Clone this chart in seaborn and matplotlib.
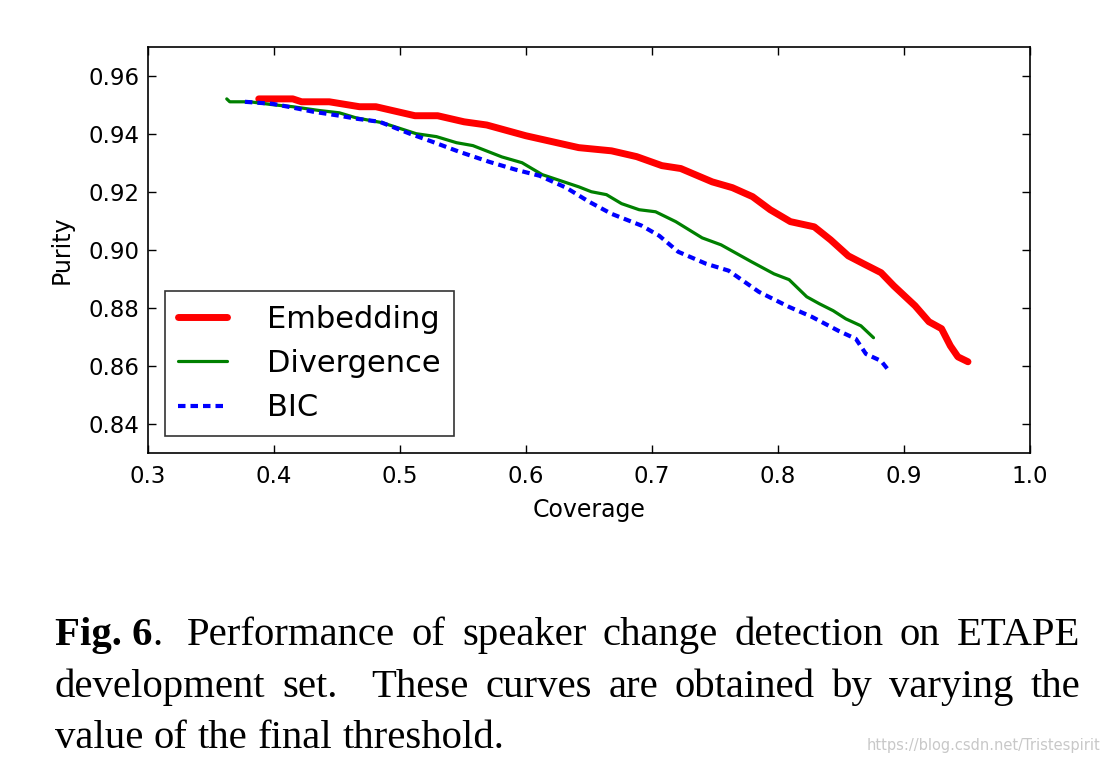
import numpy as np
import pandas as pd
import seaborn as sns
import matplotlib.pyplot as plt

# values
emb_cov = [0.388, 0.415, 0.422, 0.444, 0.468, 0.481, 0.512, 0.530, 0.551, 0.569,
           0.600, 0.642, 0.668, 0.688, 0.708, 0.723, 0.748, 0.764, 0.780, 0.794,
           0.810, 0.829, 0.842, 0.856, 0.868, 0.882, 0.892, 0.909, 0.920, 0.930,
           0.937, 0.943, 0.951]
emb_pur = [0.952, 0.952, 0.951, 0.951, 0.9493, 0.9493, 0.9462, 0.9462, 0.9441, 0.943,
           0.9393, 0.9352, 0.9341, 0.9321, 0.929, 0.928, 0.9234, 0.9214, 0.9183, 0.9138,
           0.9097, 0.9079, 0.9034, 0.8979, 0.8952, 0.8921, 0.8876, 0.8807, 0.8752, 0.8728,
           0.8669, 0.8631, 0.8614]

div_cov = [0.3626, 0.365, 0.381, 0.399, 0.415, 0.436, 0.452, 0.465, 0.486, 0.513,
           0.529, 0.545, 0.558, 0.581, 0.597, 0.613, 0.642, 0.652, 0.664, 0.676,
           0.690, 0.703, 0.719, 0.740, 0.755, 0.779, 0.797, 0.809, 0.823, 0.833,
           0.844, 0.854, 0.866, 0.876]
div_pur = [0.952, 0.951, 0.951, 0.950, 0.9493, 0.948, 0.9472, 0.9455, 0.9438, 0.940,
           0.939, 0.9369, 0.9359, 0.932, 0.930, 0.9259, 0.9217, 0.920, 0.919, 0.9159,
           0.9138, 0.9131, 0.9097, 0.9041, 0.9017, 0.8959, 0.8917, 0.8897, 0.8838, 0.8814,
           0.879, 0.8762, 0.8738, 0.8697]

bic_cov = [0.377, 0.399, 0.415, 0.431, 0.452, 0.465, 0.484, 0.508, 0.526, 0.547,
           0.571, 0.592, 0.611, 0.632, 0.650, 0.668, 0.692, 0.706, 0.721, 0.743,
           0.761, 0.785, 0.809, 0.827, 0.848, 0.862, 0.870, 0.882, 0.889]
bic_pur = [0.951, 0.9503, 0.949, 0.9476, 0.9462, 0.9452, 0.9441, 0.940, 0.9372, 0.9338,
           0.9303, 0.9276, 0.9255, 0.9214, 0.9166, 0.9124, 0.9083, 0.9048, 0.8993, 0.8952,
           0.8928, 0.8855, 0.8803, 0.8769, 0.8721, 0.8693, 0.8641, 0.8617, 0.8579]

x_ticks = [0.3, 0.4, 0.5, 0.6, 0.7, 0.8, 0.9, 1.0]
y_ticks = [0.84, 0.86, 0.88, 0.90, 0.92, 0.94, 0.96]

# caption lines: list of words, each word a list of (text, bold) pieces
caption = [
    [[("Fig. 6", True), (".", False)], [("Performance", False)], [("of", False)],
     [("speaker", False)], [("change", False)], [("detection", False)],
     [("on", False)], [("ETAPE", False)]],
    [[("development", False)], [("set.", False)], [("These", False)],
     [("curves", False)], [("are", False)], [("obtained", False)], [("by", False)],
     [("varying", False)], [("the", False)]],
    [[("value", False)], [("of", False)], [("the", False)], [("final", False)],
     [("threshold.", False)]],
]
# extra weight for the wider gaps after a sentence end
gap_weights = [[1.5, 1, 1, 1, 1, 1, 1], [1, 2, 1, 1, 1, 1, 1, 1], [1, 1, 1, 1]]

emb = pd.DataFrame({"Coverage": emb_cov, "Purity": emb_pur})
div = pd.DataFrame({"Coverage": div_cov, "Purity": div_pur})
bic = pd.DataFrame({"Coverage": bic_cov, "Purity": bic_pur})

sns.set_style("white")
plt.rcParams["font.family"] = ["DejaVu Sans"]
plt.rcParams["text.color"] = "black"
plt.rcParams["axes.labelcolor"] = "black"

fig = plt.figure(figsize=(11.12, 7.65), dpi=100)
ax = fig.add_axes([0.133, 0.408, 0.793, 0.531])

sns.lineplot(data=emb, x="Coverage", y="Purity", ax=ax, color="#ff0000",
             lw=5, sort=False, estimator=None, label="Embedding")
sns.lineplot(data=div, x="Coverage", y="Purity", ax=ax, color="#008000",
             lw=2.3, sort=False, estimator=None, label="Divergence")
sns.lineplot(data=bic, x="Coverage", y="Purity", ax=ax, color="#0000ff",
             lw=3, sort=False, estimator=None, label="BIC")
ax.lines[-1].set_dashes((1.8, 1.2))

ax.set_xlim(0.3, 1.0)
ax.set_ylim(0.83, 0.97)
ax.set_xticks(x_ticks)
ax.set_yticks(y_ticks)
ax.set_xticklabels([f"{v:.1f}" for v in x_ticks])
ax.set_yticklabels([f"{v:.2f}" for v in y_ticks])
ax.tick_params(direction="in", length=6, width=1, labelsize=16.5,
               top=True, right=True, bottom=True, left=True,
               colors="black", labelcolor="black")
ax.tick_params(axis="x", pad=9)
ax.tick_params(axis="y", pad=6)
for s in ax.spines.values():
    s.set_visible(True)
    s.set_color("black")
    s.set_linewidth(1.2)
ax.set_xlabel("Coverage", fontsize=17, labelpad=7)
ax.set_ylabel("Purity", fontsize=17, labelpad=11)

leg = ax.legend(loc="lower left", fontsize=22, frameon=True, fancybox=False,
                handlelength=1.6, borderpad=0.45, labelspacing=0.5,
                handletextpad=1.3, borderaxespad=0.55)
leg.get_frame().set_edgecolor("black")
leg.get_frame().set_linewidth(1.2)
for t in leg.get_texts():
    t.set_color("black")

# caption under the plot, justified like the paper
cap_font = dict(family=["Liberation Serif"], fontsize=29.3, color="black",
                va="baseline")
x_left, x_right = 55, 1080
baselines = [645, 697, 748]
renderer = fig.canvas.get_renderer()
for li, (words, weights) in enumerate(zip(caption, gap_weights)):
    y = 1 - baselines[li] / 765
    arts = []
    widths = []
    for word in words:
        pieces = []
        w = 0
        for txt, bold in word:
            t = fig.text(0, y, txt, fontweight="bold" if bold else "normal",
                         **cap_font)
            pw = t.get_window_extent(renderer).width
            pieces.append((t, w))
            w += pw
        arts.append(pieces)
        widths.append(w)
    if li < len(caption) - 1:
        unit = (x_right - x_left - sum(widths)) / sum(weights)
    else:
        sp = fig.text(0, 0, "a b", **cap_font)
        ab = fig.text(0, 0, "ab", **cap_font)
        unit = sp.get_window_extent(renderer).width - ab.get_window_extent(renderer).width
        sp.remove()
        ab.remove()
    x = x_left
    for i, pieces in enumerate(arts):
        for t, off in pieces:
            t.set_x((x + off) / 1112)
        x += widths[i]
        if i < len(weights):
            x += unit * weights[i]

fig.text(1100 / 1112, 1 - 750 / 765, "https://blog.csdn.net/Tristespirit",
         fontsize=10.5, color="#c8c8c8", ha="right", va="baseline")

fig.savefig("out.png", dpi=100)
